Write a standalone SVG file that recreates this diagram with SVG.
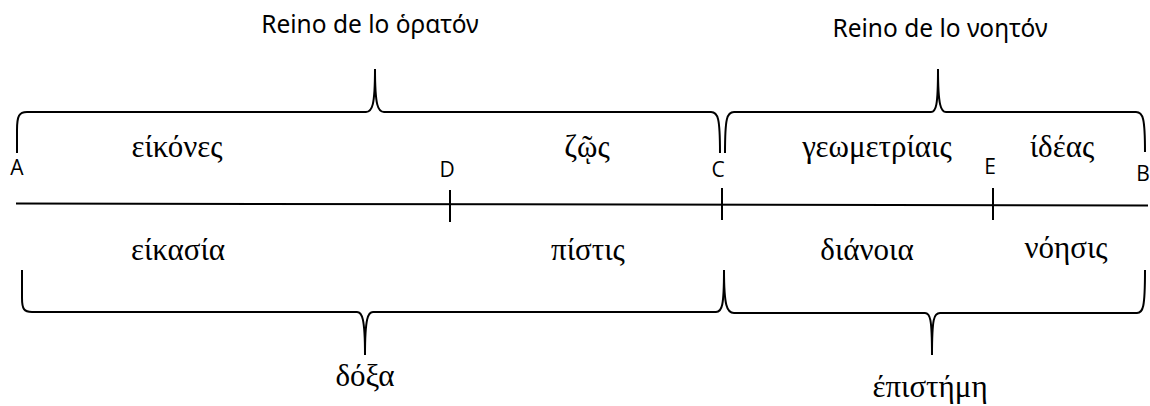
<svg xmlns="http://www.w3.org/2000/svg" width="1150" height="406" viewBox="0 0 1150 406">
<style>
.ln{fill:none;stroke:#000;stroke-width:2;stroke-linecap:butt}
.sans{font-family:"Open Sans","Noto Sans",sans-serif;fill:#000}
.ttl{font-family:"Noto Sans","Open Sans",sans-serif;font-size:24.5px}
.pt{font-size:21px}
.gr{font-family:"Liberation Serif","DejaVu Serif",serif;font-size:31px;fill:#000}
</style>
<rect width="1150" height="406" fill="#fff"/>
<g id="connectors">
<path id="mainline" class="ln" d="M16,203.5 L1148,205.5"/>
<path id="tickD" class="ln" d="M450,190 L450,222"/>
<path id="tickC" class="ln" d="M722,188 L722,220"/>
<path id="tickE" class="ln" d="M993,188 L993,220"/>
<path id="braceTopLeft" class="ln" d="M17,153 L17,130 C17,116 19,112 27,112 L366,112 C372,112 375,106 375,69 C375,106 378,112 384,112 L711,112 C718,112 720,118 720,153"/>
<path id="braceTopRight" class="ln" d="M725,153 C725,118 727,112 734,112 L931,112 C936,112 938,106 938,69 C938,106 941,112 946,112 L1136,112 C1143,112 1145,118 1145,152"/>
<path id="braceBottomLeft" class="ln" d="M22,270 L22,298 C22,309 24,312 32,312 L357,312 C362,312 365,318 365,355 C365,318 368,312 373,312 L716,312 C722,312 724,306 724,270"/>
<path id="braceBottomRight" class="ln" d="M724,270 C724,306 727,313 734,313 L925,313 C930,313 932,318 932,355 C932,318 934,313 940,313 L1137,313 C1143,313 1145,308 1145,270"/>
</g>
<g id="title-visible"><text class="sans ttl" x="370" y="33" text-anchor="middle">Reino de lo ὁρατόν</text></g>
<g id="title-intelligible"><text class="sans ttl" x="940" y="37" text-anchor="middle">Reino de lo νοητόν</text></g>
<g id="pointA"><text class="sans pt" x="17" y="175" text-anchor="middle">A</text></g>
<g id="pointD"><text class="sans pt" x="447" y="177" text-anchor="middle">D</text></g>
<g id="pointC"><text class="sans pt" x="718" y="177" text-anchor="middle">C</text></g>
<g id="pointE"><text class="sans pt" x="990" y="174" text-anchor="middle">E</text></g>
<g id="pointB"><text class="sans pt" x="1143" y="181" text-anchor="middle">B</text></g>
<g id="eikones"><text class="gr" x="177" y="157" text-anchor="middle">είκόνες</text></g>
<g id="zoos"><text class="gr" x="587" y="157" text-anchor="middle">ζῷς</text></g>
<g id="geometriais"><text class="gr" x="877" y="157" text-anchor="middle">γεωμετρίαις</text></g>
<g id="ideas"><text class="gr" x="1062" y="157" text-anchor="middle">ίδέας</text></g>
<g id="eikasia"><text class="gr" x="178" y="260" text-anchor="middle">είκασία</text></g>
<g id="pistis"><text class="gr" x="588" y="260" text-anchor="middle">πίστις</text></g>
<g id="dianoia"><text class="gr" x="867" y="260" text-anchor="middle">διάνοια</text></g>
<g id="noesis"><text class="gr" x="1066" y="258" text-anchor="middle">νόησις</text></g>
<g id="doxa"><text class="gr" x="365" y="386" text-anchor="middle">δόξα</text></g>
<g id="episteme"><text class="gr" x="930" y="397" text-anchor="middle">έπιστήμη</text></g>
</svg>
